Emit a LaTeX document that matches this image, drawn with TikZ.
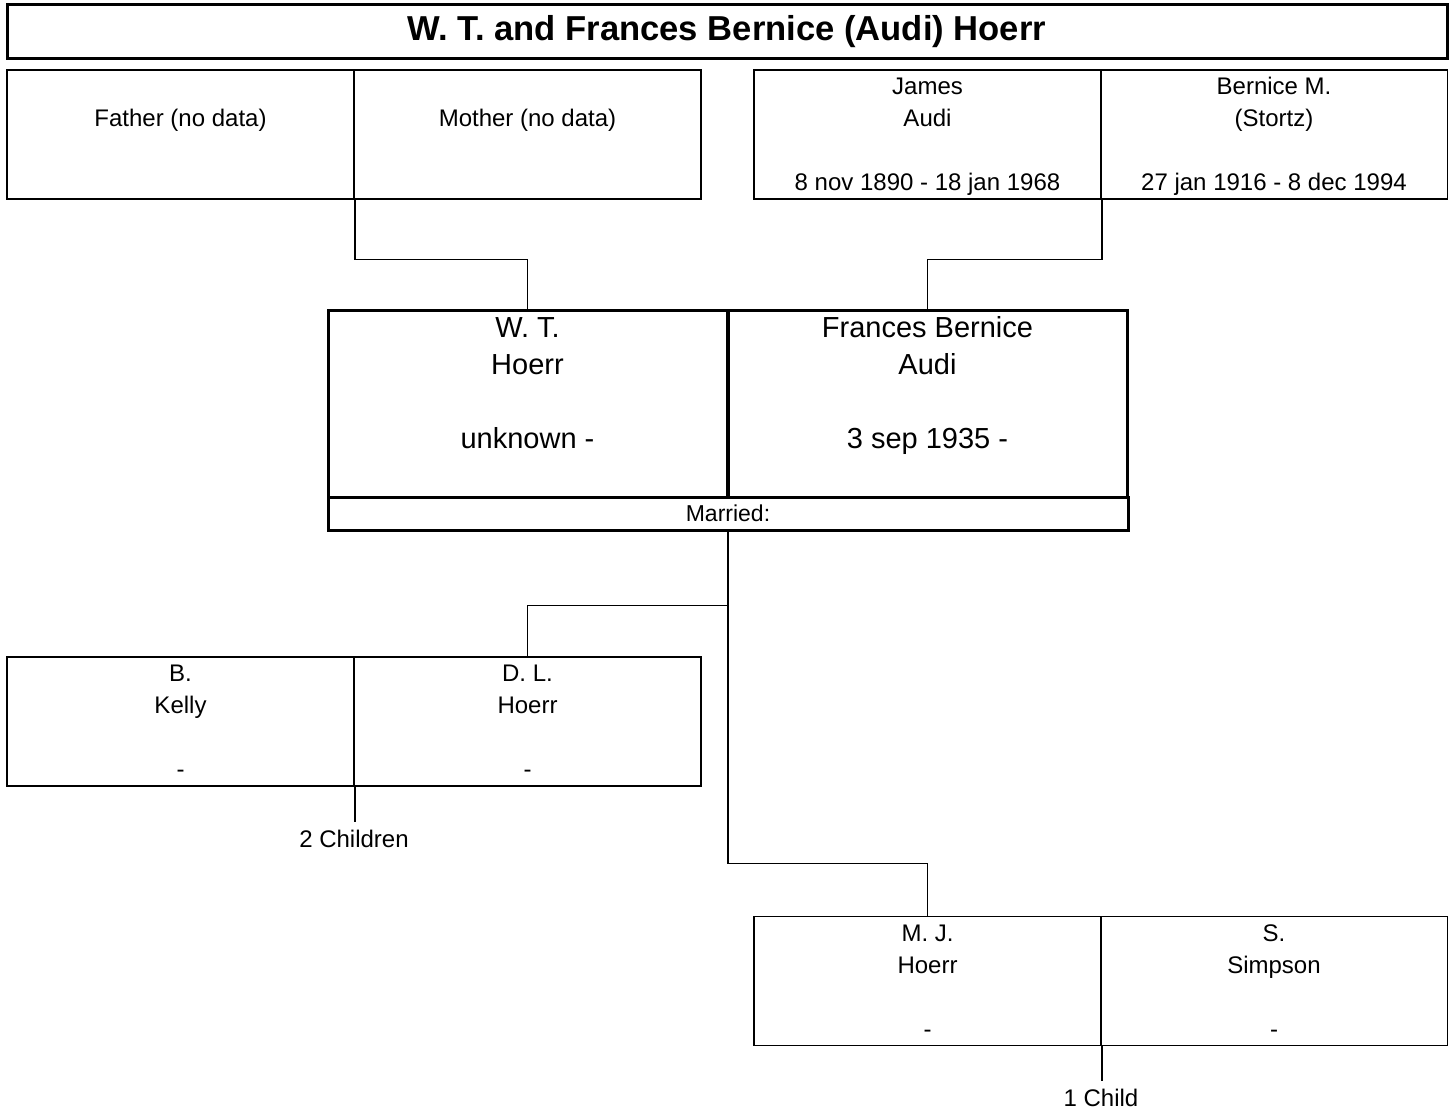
\documentclass[tikz,border=0pt]{standalone}
\usepackage{fontspec}
\setmainfont{Liberation Sans}
\newcommand\fstrut{\rule{0pt}{12.2pt}}
\newcommand\lstrut{\rule[-3.8pt]{0pt}{10pt}}

\begin{document}
\begin{tikzpicture}[x=0.5pt,y=-0.5pt,
  person/.style={draw,line width=0.75pt,minimum width=173.5pt,minimum height=64.5pt,
    inner sep=0pt,align=center,font=\fontsize{12}{16}\selectfont},
  spouse/.style={draw,line width=1.5pt,minimum width=199.5pt,minimum height=93pt,
    inner sep=0pt,align=center,font=\fontsize{14.5}{18.5}\selectfont},
  link/.style={line width=0.75pt},
  kids/.style={inner sep=4pt,font=\fontsize{12}{14}\selectfont}]
  \useasboundingbox (0,0) rectangle (1451,1112);
  % title
  \node[draw,line width=1.5pt,minimum width=720pt,minimum height=27pt,inner sep=0pt,
    font=\bfseries\fontsize{17.3}{20}\selectfont] (title) at (727,32) {W. T. and Frances Bernice (Audi) Hoerr};
  % parents
  \node[person] (father) at (180.5,134.5) {\fstrut\\\strut Father (no data)\\\strut\\\lstrut};
  \node[person] (mother) at (527.5,134.5) {\fstrut\\\strut Mother (no data)\\\strut\\\lstrut};
  \node[person] (james) at (927.5,134.5) {\fstrut James\\\strut Audi\\\strut\\\lstrut 8 nov 1890 - 18 jan 1968};
  \node[person] (bernice) at (1274,134.5) {\fstrut Bernice M.\\\strut (Stortz)\\\strut\\\lstrut 27 jan 1916 - 8 dec 1994};
  % couple
  \node[spouse] (wt) at (527.5,404) {\strut W. T.\\\strut Hoerr\\\strut\\\strut unknown -\\\strut};
  \node[spouse] (frances) at (927.5,404) {\strut Frances Bernice\\\strut Audi\\\strut\\\strut 3 sep 1935 -\\\strut};
  \node[draw,line width=1.5pt,minimum width=400pt,minimum height=16.5pt,inner sep=0pt,
    font=\fontsize{11.5}{13}\selectfont] (married) at (728,513.5) {Married:};
  % children
  \node[person] (kelly) at (180.5,721.5) {\fstrut B.\\\strut Kelly\\\strut\\\lstrut -};
  \node[person] (dl) at (527.5,721.5) {\fstrut D. L.\\\strut Hoerr\\\strut\\\lstrut -};
  \node[kids] (kids1) at (354,839) {2 Children};
  \node[person] (mj) at (927.5,981) {\fstrut M. J.\\\strut Hoerr\\\strut\\\lstrut -};
  \node[person] (simpson) at (1274,981) {\fstrut S.\\\strut Simpson\\\strut\\\lstrut -};
  \node[kids] (kids2) at (1101,1098) {1 Child};
  % lines
  \draw[link] (father.south east) -- ++(0,60) -| (wt.north);
  \draw[link] (james.south east) -- ++(0,60) -| (frances.north);
  \draw[link] (married.south) -- ++(0,74) coordinate (fork) -| (dl.north);
  \draw[link] (fork) -- ++(0,258) -| (mj.north);
  \draw[link] (kelly.south east) -- (kelly.south east |- kids1.north);
  \draw[link] (mj.south east) -- (mj.south east |- kids2.north);
\end{tikzpicture}
\end{document}
